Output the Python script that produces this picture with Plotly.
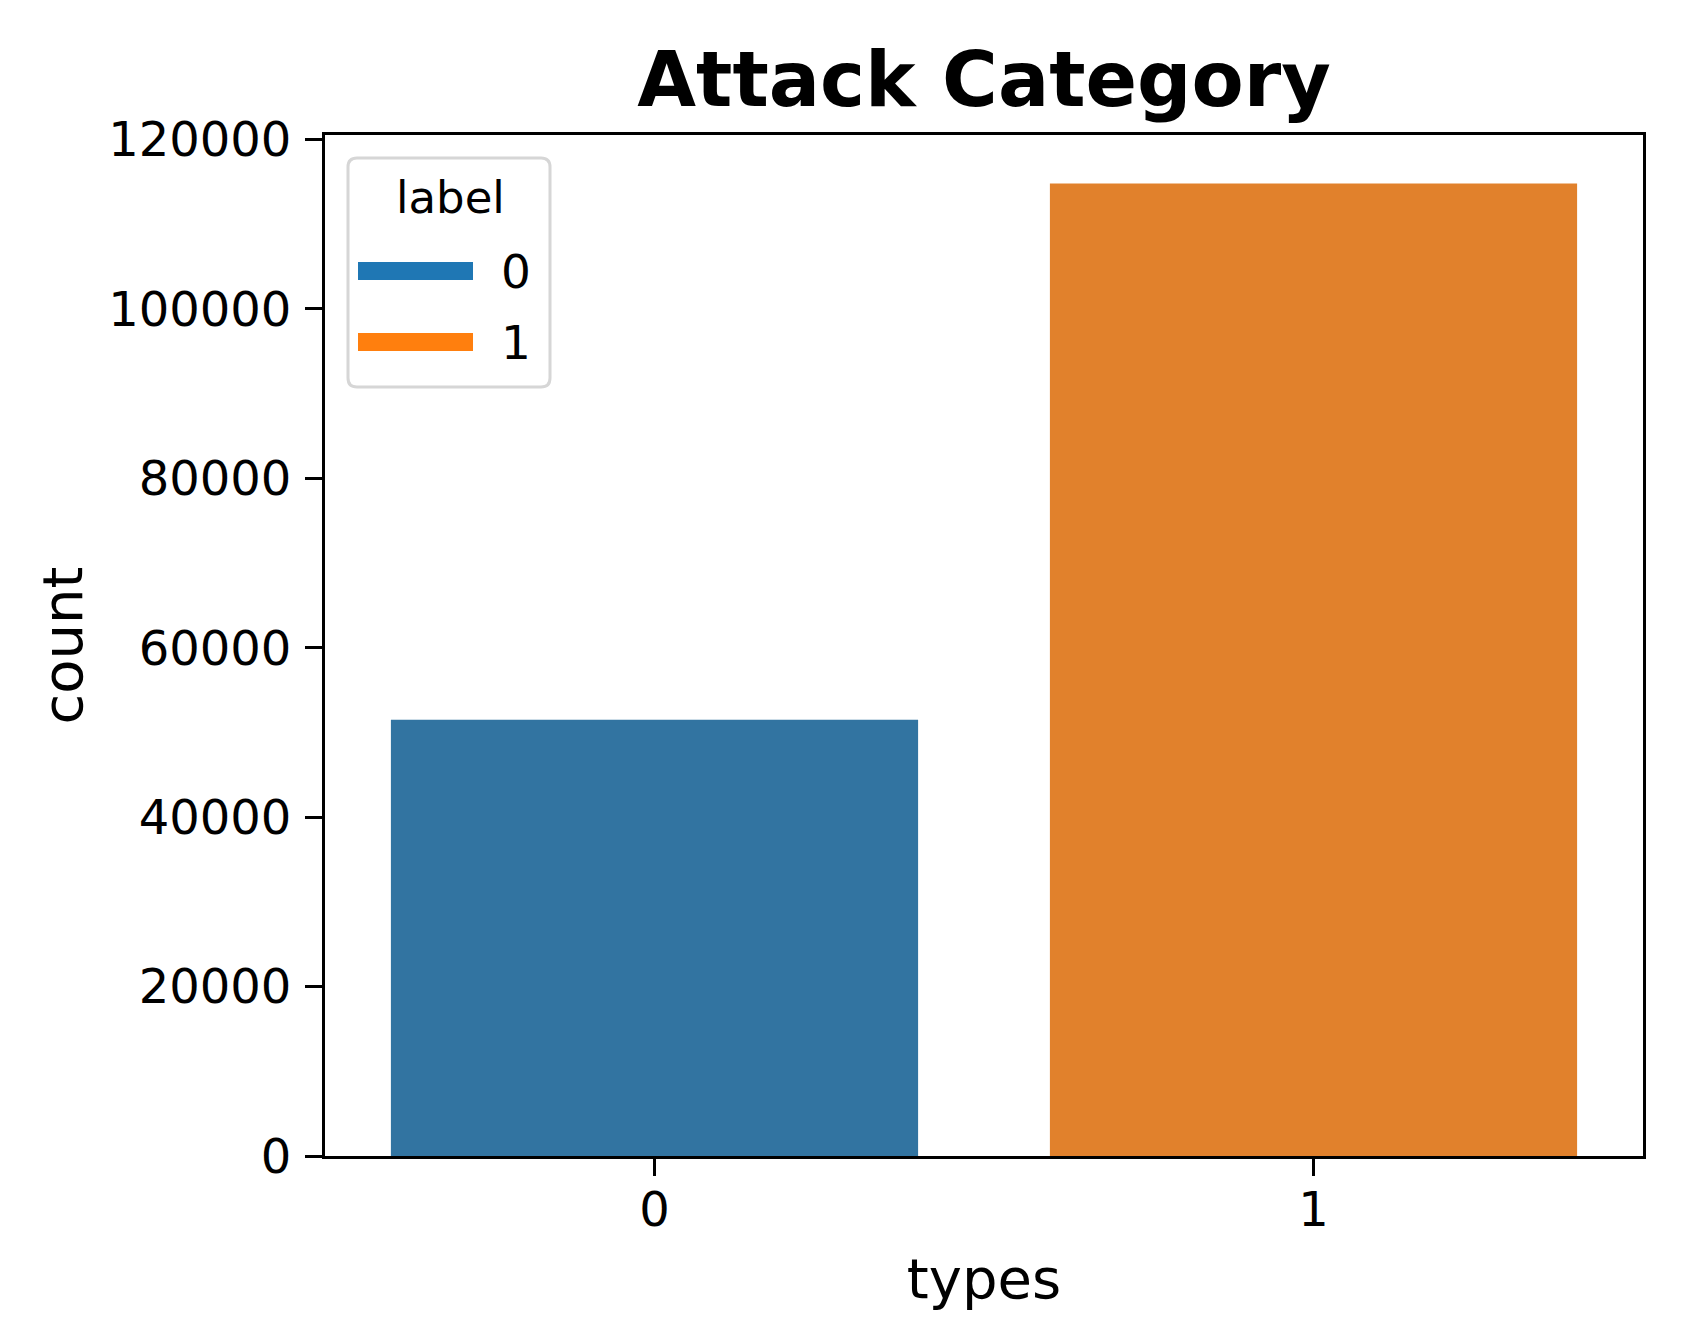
import plotly.graph_objects as go

# ---- data ----
types = ["0", "1"]
counts = [51500, 114800]
legend_labels = ["0", "1"]
bar_colors = ["#3274a1", "#e1812c"]
legend_colors = ["#1f77b4", "#ff7f0e"]
y_ticks = [0, 20000, 40000, 60000, 80000, 100000, 120000]

# page body has an 8px margin; work in page pixels and convert
OFF = 8
W, H = 1689 - 2 * OFF, 1340 - 2 * OFF
PL, PR, PT, PB = 325, 1643, 135, 1156  # plot area in page pixels
L, T = PL - OFF, PT - OFF
R, B = W - (PR - OFF), H - (PB - OFF)
PW, PH = PR - PL, PB - PT

def px(x):
    return (x - PL) / PW

def py(y):
    return (PB - y) / PH

fig = go.Figure()
for t, c, col in zip(types, counts, bar_colors):
    fig.add_trace(go.Bar(x=[t], y=[c], name=t, marker=dict(color=col, line=dict(width=0)),
                         width=0.8, showlegend=False))

font = "DejaVu Sans"

# custom legend (matplotlib style)
x0, y0, x1, y1, r = 348, 158, 550, 387, 9
rx, ry = r / PW, r / PH
X0, X1, Y0, Y1 = px(x0), px(x1), py(y1), py(y0)
path = (f"M{X0+rx},{Y0} L{X1-rx},{Y0} Q{X1},{Y0} {X1},{Y0+ry} "
        f"L{X1},{Y1-ry} Q{X1},{Y1} {X1-rx},{Y1} L{X0+rx},{Y1} Q{X0},{Y1} {X0},{Y1-ry} "
        f"L{X0},{Y0+ry} Q{X0},{Y0} {X0+rx},{Y0} Z")
shapes = [dict(type="path", xref="paper", yref="paper", path=path,
               fillcolor="rgba(255,255,255,0.8)", line=dict(color="#d6d6d6", width=3), layer="above")]
annotations = [dict(text="label", xref="paper", yref="paper", x=px(450), y=py(197),
                    xanchor="center", yanchor="middle", showarrow=False,
                    font=dict(family=font, size=45, color="black"))]
centers = [271, 342]
for lab, col, cy in zip(legend_labels, legend_colors, centers):
    shapes.append(dict(type="rect", xref="paper", yref="paper", x0=px(358), x1=px(473),
                       y0=py(cy + 9), y1=py(cy - 9), fillcolor=col, line=dict(width=0), layer="above"))
    annotations.append(dict(text=lab, xref="paper", yref="paper", x=px(499), y=py(cy),
                            xanchor="left", yanchor="middle", showarrow=False,
                            font=dict(family=font, size=47, color="black")))

fig.update_layout(
    width=W, height=H,
    margin=dict(l=L, r=R, t=T, b=B, autoexpand=False),
    paper_bgcolor="white", plot_bgcolor="white",
    barmode="overlay",
    font=dict(family=font, color="black"),
    title=dict(text="<b>Attack Category</b>", x=px(984), xref="paper", xanchor="center",
               y=1 - (79 - OFF) / H, yref="container", yanchor="middle",
               font=dict(family=font, size=76, color="black")),
    shapes=shapes, annotations=annotations,
    xaxis=dict(type="category", range=[-0.5, 1.5], showline=True, linecolor="black", linewidth=3,
               mirror=True, ticks="outside", ticklen=17, tickwidth=3, tickcolor="black",
               tickfont=dict(family=font, size=48, color="black"), ticklabelstandoff=-8,
               showgrid=False, zeroline=False,
               title=dict(text="types", font=dict(family=font, size=56, color="black"), standoff=24),
               automargin=False),
    yaxis=dict(range=[0, 120540], showline=True, linecolor="black", linewidth=3,
               mirror=True, ticks="outside", ticklen=17, tickwidth=3, tickcolor="black",
               tickvals=y_ticks, tickformat="d",
               tickfont=dict(family=font, size=48, color="black"), ticklabelstandoff=4,
               showgrid=False, zeroline=False,
               title=dict(text="count", font=dict(family=font, size=56, color="black"), standoff=8),
               automargin=False),
)

fig.write_html("out.html")
